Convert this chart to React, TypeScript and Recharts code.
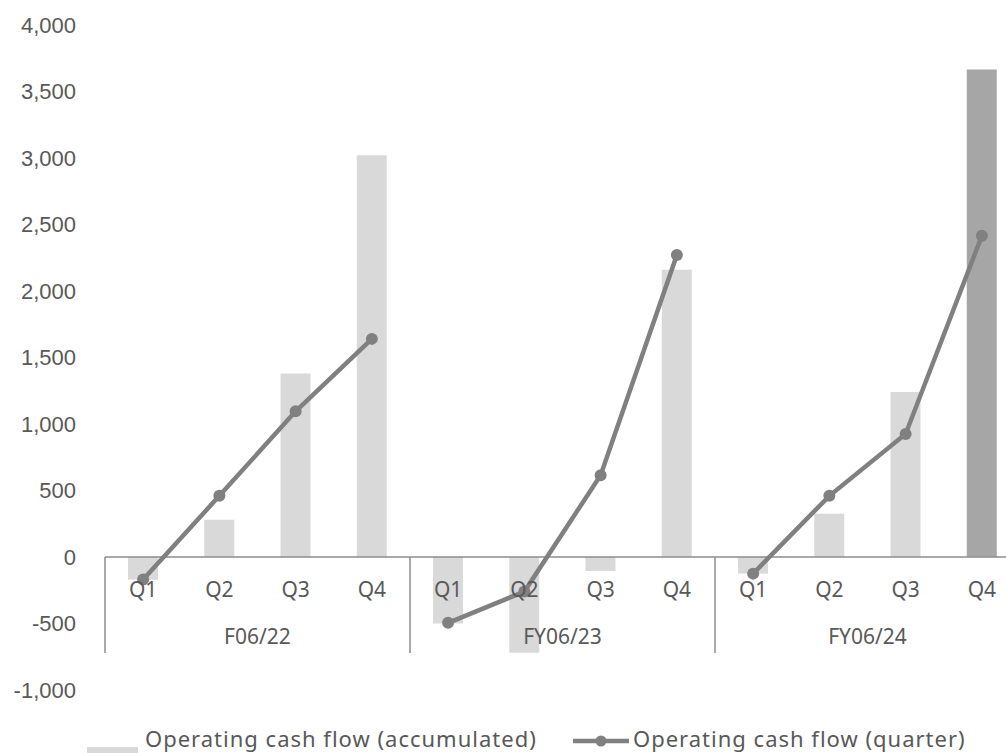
import { Bar, Cell, ComposedChart, Legend, Line, ReferenceLine, XAxis, YAxis } from "recharts";

const FISCAL_YEARS = ["F06/22", "FY06/23", "FY06/24"];
const QUARTERS = ["Q1", "Q2", "Q3", "Q4"];
// operating cash flow, year-to-date total
const ACCUMULATED = [-170, 280, 1380, 3020, -500, -720, -105, 2160, -125, 325, 1240, 3665];
// operating cash flow, single quarter
const QUARTERLY = [-170, 460, 1095, 1640, -495, -260, 615, 2270, -125, 460, 925, 2415];
const Y_TICKS = [-1000, -500, 0, 500, 1000, 1500, 2000, 2500, 3000, 3500, 4000];

// one quarterly field per fiscal year so the line breaks between years
const rows = FISCAL_YEARS.flatMap((year, y) =>
  QUARTERS.map((quarter, q) => {
    const i = y * QUARTERS.length + q;
    const row: Record<string, any> = { key: `${year} ${quarter}`, year, quarter, accumulated: ACCUMULATED[i] };
    FISCAL_YEARS.forEach((_, k) => {
      row[`quarterly${k}`] = k === y ? QUARTERLY[i] : null;
    });
    return row;
  })
);

const WIDTH = 1030;
const HEIGHT = 753;
const MARGIN = { top: 25, right: 10, bottom: 6, left: 0 };
const Y_AXIS_W = 105;
const X_AXIS_H = 30;
const LEGEND_H = 27;
const BAND = (WIDTH - MARGIN.left - MARGIN.right - Y_AXIS_W) / rows.length;

const FONT = '"Noto Sans", "Liberation Sans", sans-serif';
const NUM_FONT = '"Liberation Sans", Arial, sans-serif';
const TEXT = "#595959";
const AXIS = "#8c8c8c";
const BAR = "#d9d9d9";
const BAR_LAST = "#a6a6a6";
const LINE = "#808080";

function CategoryTick(props: any) {
  const { x, y, index } = props;
  const row = rows[index];
  const min = Y_TICKS[0];
  const max = Y_TICKS[Y_TICKS.length - 1];
  // tick y sits on the plot bottom; the category axis crosses at zero
  const zeroY = y - ((y - MARGIN.top) * (0 - min)) / (max - min);
  const pos = index % QUARTERS.length;
  const textStyle = { fontFamily: FONT, fontSize: 21, fill: TEXT };
  return (
    <g>
      <text x={x} y={zeroY + 32} textAnchor="middle" dominantBaseline="central" style={textStyle}>
        {row.quarter}
      </text>
      {pos === 0 && <line x1={x - BAND / 2} x2={x - BAND / 2} y1={zeroY} y2={zeroY + 96} stroke={AXIS} strokeWidth={1.5} />}
      {pos === 1 && (
        <text x={x + BAND / 2} y={zeroY + 79} textAnchor="middle" dominantBaseline="central" style={textStyle}>
          {row.year}
        </text>
      )}
      {index === rows.length - 1 && (
        <line x1={x + BAND / 2} x2={x + BAND / 2} y1={zeroY} y2={zeroY + 96} stroke={AXIS} strokeWidth={1.5} />
      )}
    </g>
  );
}

function ChartLegend() {
  const label = {
    position: "absolute" as const,
    top: 1,
    fontFamily: FONT,
    fontSize: 22,
    lineHeight: "22px",
    letterSpacing: 1,
    color: TEXT,
    whiteSpace: "nowrap" as const
  };
  return (
    <div style={{ position: "relative", width: 1006, height: LEGEND_H }}>
      <div style={{ position: "absolute", left: 87, top: 21, width: 51, height: 10, background: BAR }} />
      <span style={{ ...label, left: 145 }}>Operating cash flow (accumulated)</span>
      <svg style={{ position: "absolute", left: 573, top: 8 }} width={56} height={14}>
        <line x1={0} x2={56} y1={7} y2={7} stroke={LINE} strokeWidth={4.5} />
        <circle cx={28} cy={7} r={5.5} fill={LINE} />
      </svg>
      <span style={{ ...label, left: 633 }}>Operating cash flow (quarter)</span>
    </div>
  );
}

export default function App() {
  return (
    <div style={{ position: "absolute", left: 0, top: 0, width: 1006, height: 753, overflow: "hidden", background: "#fff" }}>
      <ComposedChart width={WIDTH} height={HEIGHT} data={rows} margin={MARGIN}>
        <YAxis
          width={Y_AXIS_W}
          domain={[Y_TICKS[0], Y_TICKS[Y_TICKS.length - 1]]}
          ticks={Y_TICKS}
          interval={0}
          axisLine={false}
          tickLine={false}
          tickSize={0}
          tickMargin={29}
          tickFormatter={(v: number) => v.toLocaleString("en-US")}
          tick={{ fontFamily: NUM_FONT, fontSize: 22, fill: TEXT }}
        />
        <XAxis
          dataKey="key"
          height={X_AXIS_H}
          interval={0}
          axisLine={false}
          tickLine={false}
          tickSize={0}
          tickMargin={0}
          tick={<CategoryTick />}
        />
        <ReferenceLine y={0} stroke={AXIS} strokeWidth={1.5} />
        <Bar dataKey="accumulated" name="Operating cash flow (accumulated)" barSize={30} isAnimationActive={false}>
          {rows.map((r, i) => (
            <Cell key={r.key} fill={i === rows.length - 1 ? BAR_LAST : BAR} />
          ))}
        </Bar>
        {FISCAL_YEARS.map((year, k) => (
          <Line
            key={year}
            dataKey={`quarterly${k}`}
            name="Operating cash flow (quarter)"
            type="linear"
            stroke={LINE}
            strokeWidth={4.5}
            dot={{ r: 6, fill: LINE, stroke: LINE, strokeWidth: 0 }}
            connectNulls={false}
            isAnimationActive={false}
          />
        ))}
        <Legend verticalAlign="bottom" content={() => <ChartLegend />} wrapperStyle={{ left: 0, top: 726, bottom: "auto", width: 1006 }} />
      </ComposedChart>
    </div>
  );
}
